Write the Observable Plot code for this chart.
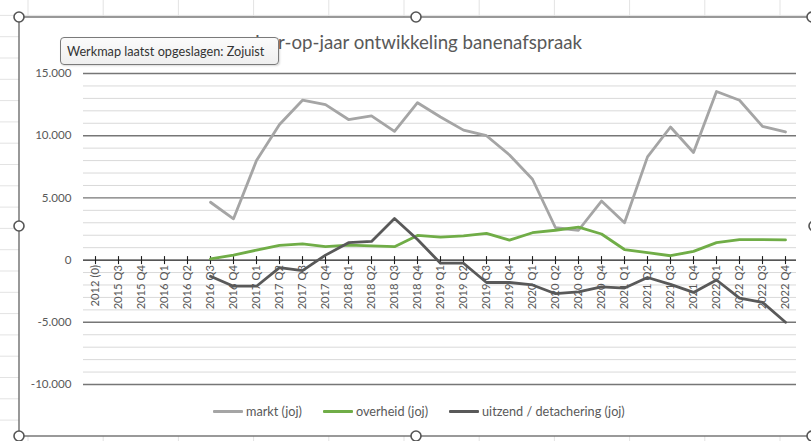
<!DOCTYPE html>
<html><head><meta charset="utf-8">
<script src="https://cdn.jsdelivr.net/npm/d3@7"></script>
<script src="https://cdn.jsdelivr.net/npm/@observablehq/plot@0.6"></script>
<style>
body{margin:0;background:#fff;}
#page{position:relative;width:811px;height:441px;overflow:hidden;font-family:Lato,"Noto Sans",sans-serif;}
#bg,#fg{position:absolute;left:0;top:0;}
#chart{position:absolute;left:0;top:0;}
#title{position:absolute;left:21px;width:792px;top:31px;text-align:center;font-size:18.7px;color:#595959;white-space:nowrap;}
#legend{position:absolute;left:213px;top:403px;display:flex;gap:0;font-size:12.7px;color:#595959;white-space:nowrap;}
.item{display:flex;align-items:center;margin-right:21px;}
.sw{width:30px;height:3px;margin-right:3px;border-radius:1px;}
#tip{position:absolute;left:60px;top:37px;width:219px;height:28px;border:1px solid #7a7a7a;border-radius:4px;background:linear-gradient(#fbfbfb,#efefef);box-shadow:1px 1px 2px rgba(0,0,0,.15);font-size:12.7px;color:#333;line-height:27px;padding-left:6px;box-sizing:border-box;white-space:nowrap;}
</style></head><body>
<div id="page">
<svg id="bg" width="811" height="441"></svg>
<div id="chart"></div>
<div id="title">Jaar-op-jaar ontwikkeling banenafspraak</div>
<div id="legend"></div>
<div id="tip">Werkmap laatst opgeslagen: Zojuist</div>
<svg id="fg" width="811" height="441"></svg>
</div>
<script>
const categories = ["2012 (0)","2015 Q3","2015 Q4","2016 Q1","2016 Q2","2016 Q3","2016 Q4",
  "2017 Q1","2017 Q2","2017 Q3","2017 Q4","2018 Q1","2018 Q2","2018 Q3","2018 Q4",
  "2019 Q1","2019 Q2","2019 Q3","2019 Q4","2020 Q1","2020 Q2","2020 Q3","2020 Q4",
  "2021 Q1","2021 Q2","2021 Q3","2021 Q4","2022 Q1","2022 Q2","2022 Q3","2022 Q4"];
const markt = [null,null,null,null,null,4650,3320,8000,10900,12850,12500,11300,11600,10350,12650,
  11500,10450,10000,8450,6500,2600,2400,4750,3000,8300,10700,8650,13550,12850,10750,10300];
const overheid = [null,null,null,null,null,100,400,800,1180,1300,1080,1200,1150,1080,1980,
  1850,1950,2150,1600,2200,2400,2650,2100,850,600,350,700,1400,1650,1650,1620];
const uitzend = [null,null,null,null,null,-1300,-2100,-2100,-600,-850,400,1400,1500,3350,1650,
  -250,-250,-1800,-1800,-2000,-2700,-2550,-2150,-2250,-1400,-1950,-2600,-1600,-3050,-3400,-5000];
const seriesNames = ["markt (joj)","overheid (joj)","uitzend / detachering (joj)"];
const seriesColors = ["#a5a5a5","#70ad47","#595959"];
const yTicks = [-10000,-5000,0,5000,10000,15000];
const yDomain = [-10000,15000];
const minorStep = 1000;

const seriesValues = [markt, overheid, uitzend];
const rows = [];
seriesValues.forEach((vals, s) => vals.forEach((v, i) => {
  if (v != null) rows.push({cat: categories[i], series: seriesNames[s], value: v});
}));
const minorTicks = d3.range(yDomain[0], yDomain[1] + 1, minorStep).filter(v => !yTicks.includes(v));
const nl = d3.formatLocale({decimal: ",", thousands: ".", grouping: [3], currency: ["€", ""], minus: "-"});
const fmt = nl.format(",");

const tickSymbol = {draw(ctx) { ctx.moveTo(0, -4); ctx.lineTo(0, 4); }};

const chart = Plot.plot({
  width: 811, height: 441,
  marginTop: 73, marginBottom: 57, marginLeft: 83, marginRight: 15,
  style: {background: "transparent", fontFamily: "Lato, 'Noto Sans', sans-serif", overflow: "visible"},
  x: {type: "point", domain: categories, padding: 0, axis: null},
  y: {domain: yDomain, axis: null},
  color: {domain: seriesNames, range: seriesColors},
  marks: [
    Plot.ruleY(minorTicks, {stroke: "#d9d9d9", strokeWidth: 1}),
    Plot.ruleY(yTicks.filter(v => v !== 0), {stroke: "#767676", strokeWidth: 1.4}),
    Plot.ruleY([0], {stroke: "#1e1e1e", strokeWidth: 1.2}),
    Plot.dot(categories, {x: d => d, y: () => 0, symbol: tickSymbol, r: 4, stroke: "#1e1e1e", strokeWidth: 1.1, fill: "none"}),
    Plot.text(yTicks, {y: d => d, text: d => fmt(d), frameAnchor: "left", textAnchor: "end", dx: -12, fontSize: 11.6, fill: "#595959"}),
    Plot.text(categories, {x: d => d, y: () => 0, text: d => d, rotate: -90, textAnchor: "end", lineAnchor: "middle", dy: 5, fontSize: 11.2, fill: "#595959"}),
    Plot.line(rows, {x: "cat", y: "value", z: "series", stroke: "series", strokeWidth: 2.8, strokeLinejoin: "round", strokeLinecap: "round"})
  ]
});
document.getElementById("chart").appendChild(chart);

// legend
const leg = document.getElementById("legend");
seriesNames.forEach((n, i) => {
  const it = document.createElement("div"); it.className = "item";
  const sw = document.createElement("div"); sw.className = "sw"; sw.style.background = seriesColors[i];
  const tx = document.createElement("span"); tx.textContent = n;
  it.appendChild(sw); it.appendChild(tx); leg.appendChild(it);
});

// background: spreadsheet grid + chart area
const bg = d3.select("#bg");
const colX = d3.range(28, 811, 75.2);
const rowY = d3.range(15.4, 441, 21.3);
bg.selectAll("line.c").data(colX).join("line").attr("x1", d => d).attr("x2", d => d).attr("y1", 0).attr("y2", 441).attr("stroke", "#e3e3e3");
bg.selectAll("line.r").data(rowY).join("line").attr("x1", 0).attr("x2", 811).attr("y1", d => d).attr("y2", d => d).attr("stroke", "#e3e3e3");
bg.append("rect").attr("x", 19).attr("y", 17).attr("width", 800).attr("height", 419).attr("fill", "#fff");

// foreground: selection frame + handles
const fg = d3.select("#fg");
fg.append("rect").attr("x", 19).attr("y", 17).attr("width", 800).attr("height", 419).attr("fill", "none").attr("stroke", "#6e6e6e").attr("stroke-width", 1.4);
const handles = [[19,17],[416,17],[812,17],[19,226],[814,226],[19,436],[416,436],[812,436]];
fg.selectAll("circle").data(handles).join("circle").attr("cx", d => d[0]).attr("cy", d => d[1]).attr("r", 5)
  .attr("fill", "#fff").attr("stroke", "#555").attr("stroke-width", 1.6);
</script>
</body></html>
